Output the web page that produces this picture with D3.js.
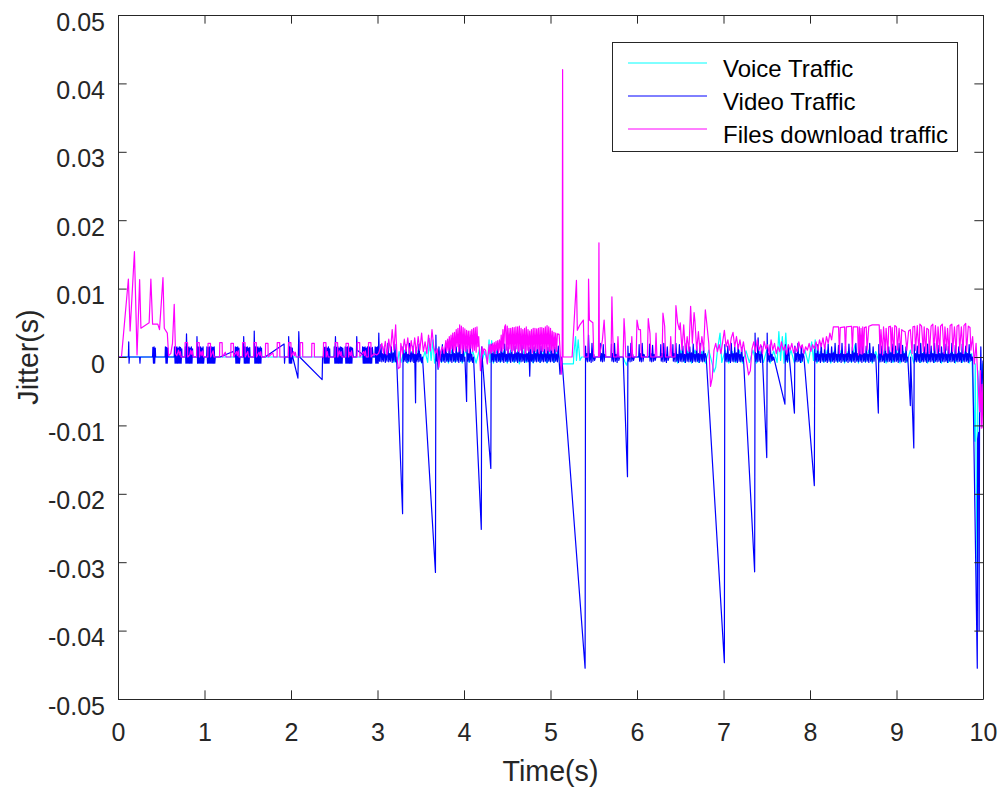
<!DOCTYPE html>
<html><head><meta charset="utf-8">
<script src="https://cdn.jsdelivr.net/npm/d3@7"></script>
<style>body{margin:0;background:#fff}svg{display:block}</style>
</head><body><svg id="c" width="1004" height="789"></svg>
<script>
// ---------- data (time in s, jitter in ms) ----------
const xTicks=[0,1,2,3,4,5,6,7,8,9,10];
const yTicks=[-0.05,-0.04,-0.03,-0.02,-0.01,0,0.01,0.02,0.03,0.04,0.05];
const yTickLabels=["-0.05","-0.04","-0.03","-0.02","-0.01","0","0.01","0.02","0.03","0.04","0.05"];
const seriesNames=["Voice Traffic","Video Traffic","Files download traffic"];
const seriesColors=["#00ffff","#0000ff","#ff00ff"];

const voiceJitterMs=[
[0,0],[3.17,0],[3.19,-0.8],[3.21,1.0],[3.23,-0.9],[3.25,0.8],[3.27,-0.8],[3.31,1.0],[3.35,-0.9],[3.39,0.8],[3.43,-0.8],[3.47,1.0],[3.51,-0.9],[3.55,0.8],[3.58,-0.8],[3.60,2.7],[3.62,-0.5],[3.64,2.5],[3.66,-0.9],[3.70,1.0],[3.74,-0.8],[3.78,0.9],[3.82,-0.9],[3.86,1.0],[3.90,-0.8],[3.94,0.8],[3.98,-0.9],
[4.02,1.0],[4.06,-0.8],[4.10,0.9],[4.14,-0.9],[4.18,1.2],[4.20,-1.0],[4.24,0.8],[4.27,-0.9],[4.29,2.5],[4.30,-0.8],[4.32,2.4],[4.34,-0.9],[4.38,1.0],[4.42,-0.8],[4.46,0.9],[4.50,-0.9],[4.54,1.0],[4.58,-0.8],[4.62,0.8],[4.64,-1.0],[4.68,1.0],[4.72,-0.8],[4.76,0.9],[4.80,-0.9],[4.84,1.0],[4.88,-0.8],[4.92,0.8],[4.96,-0.9],
[5.00,1.0],[5.04,-0.8],[5.08,0.9],[5.12,-0.9],[5.13,-1.0],[5.265,-1.0],[5.27,0.5],[5.29,3.0],[5.30,-0.5],[5.32,2.5],[5.34,-0.5],[5.36,0],[5.84,0],[5.86,-0.7],[5.88,-1.2],[5.90,0],[6.45,0],
[6.47,-0.9],[6.51,1.0],[6.55,-0.8],[6.59,0.9],[6.63,-0.9],[6.67,1.0],[6.71,-0.8],[6.75,0.8],[6.79,-0.9],[6.83,1.0],[6.87,-1.0],[6.89,-2.2],[6.91,-1.5],[6.93,1.0],[6.96,3.5],[6.98,-0.8],
[7.02,1.0],[7.06,-0.9],[7.10,0.8],[7.14,-0.8],[7.18,1.0],[7.22,-0.9],[7.26,0.9],[7.30,-0.8],[7.34,1.0],[7.38,-0.9],[7.42,0.8],[7.46,-0.8],[7.50,1.0],[7.54,-0.9],[7.58,0.9],[7.62,-0.8],[7.64,3.7],[7.66,-0.5],[7.68,3.0],[7.70,-0.9],[7.72,3.5],[7.74,-0.8],[7.78,1.0],[7.82,-0.9],[7.86,0.8],[7.90,-0.8],[7.94,1.0],[7.98,-0.9],
[8.02,2.2],[8.04,-0.5],[8.06,2.5],[8.08,-0.9],[8.12,0.8],[8.16,-0.8],[8.20,1.0],[8.24,-0.9],[8.28,0.9],[8.32,-0.8],[8.36,1.0],[8.40,-0.9],[8.44,0.8],[8.48,-0.8],[8.52,1.8],[8.56,-0.9],[8.60,1.8],[8.64,-0.8],[8.68,1.0],[8.72,-0.9],[8.76,0.8],[8.80,-0.8],[8.84,1.0],[8.88,-0.9],[8.92,0.9],[8.96,-0.8],
[9.00,1.0],[9.04,-0.9],[9.08,0.8],[9.12,-0.8],[9.16,1.0],[9.20,-0.9],[9.24,0.9],[9.28,-0.8],[9.32,1.0],[9.36,-0.9],[9.40,0.8],[9.44,-0.8],[9.48,1.0],[9.52,-0.9],[9.56,0.9],[9.60,-0.8],[9.64,1.0],[9.68,-0.9],[9.72,0.8],[9.76,-0.8],[9.80,1.0],[9.84,-0.9],[9.87,0.5],
[9.905,-12.3],[9.91,-1.0],[9.935,-36],[9.94,-2.0],[9.97,-8.0],[9.99,-1.0],[10.0,-2.0]
];

const videoJitterMs=[
[0,0],[0.12,0],[0.124,2.2],[0.128,-0.9],[0.132,0],[0.25,0],[0.254,-0.9],[0.258,0],
[0.40,0],[0.403,1.4],[0.41,-0.9],[0.417,1.5],[0.424,-0.9],[0.431,1.3],[0.435,0],
[0.545,0],[0.548,1.5],[0.555,-0.9],[0.562,1.4],[0.569,-0.9],[0.576,1.3],[0.58,0],
[0.65,0],[0.653,1.5],[0.66,-0.9],[0.667,1.4],[0.674,-0.9],[0.681,1.5],[0.688,-0.9],[0.695,1.3],[0.702,-0.9],[0.709,1.5],[0.716,-0.9],[0.723,1.4],[0.73,-0.9],[0.737,1.2],[0.74,0],
[0.775,0],[0.778,1.5],[0.785,-0.9],[0.792,3.4],[0.799,-0.9],[0.806,1.4],[0.813,-0.9],[0.82,1.5],[0.827,-0.9],[0.834,1.3],[0.841,-0.9],[0.848,1.5],[0.855,-0.9],[0.862,1.2],[0.865,0],
[0.91,0],[0.913,3.0],[0.92,-0.9],[0.927,1.5],[0.934,-0.9],[0.941,1.4],[0.948,-0.9],[0.955,1.5],[0.962,-0.9],[0.969,1.3],[0.976,-0.9],[0.983,1.5],[0.99,-0.9],[0.995,0],
[1.025,0],[1.028,1.5],[1.035,-0.9],[1.042,1.4],[1.049,-0.9],[1.056,1.5],[1.063,-0.9],[1.07,1.3],[1.077,-0.9],[1.084,1.5],[1.091,-0.9],[1.098,1.4],[1.105,-0.9],[1.112,1.5],[1.119,-0.9],[1.125,0],
[1.18,0],[1.33,0.8],[1.353,0],[1.356,1.5],[1.363,-0.9],[1.37,1.4],[1.377,-0.9],[1.384,1.5],[1.391,-0.9],[1.398,1.3],[1.405,-0.9],[1.41,0],
[1.45,0],[1.453,3.0],[1.46,-0.9],[1.467,1.5],[1.474,-0.9],[1.481,1.4],[1.488,-0.9],[1.495,1.5],[1.502,-0.9],[1.509,1.3],[1.516,-0.9],[1.523,1.4],[1.527,0],
[1.572,0],[1.575,3.8],[1.582,-0.9],[1.589,1.5],[1.596,-0.9],[1.603,1.4],[1.61,-0.9],[1.617,1.5],[1.624,-0.9],[1.631,1.3],[1.638,-0.9],[1.645,1.5],[1.652,-0.9],[1.659,1.3],[1.662,0],
[1.70,0],[1.92,1.9],[1.925,-0.9],[1.93,0],
[1.97,0],[1.973,3.0],[1.98,-0.9],[1.987,1.5],[1.994,-0.9],[2.001,1.4],[2.008,-0.9],[2.015,1.3],[2.02,0],
[2.08,-3.1],[2.09,3.7],[2.10,0],[2.36,-3.3],[2.365,0],
[2.374,0],[2.377,1.5],[2.384,-0.9],[2.391,1.4],[2.398,-0.9],[2.405,1.5],[2.412,-0.9],[2.419,1.3],[2.426,-0.9],[2.433,1.5],[2.44,-0.9],[2.447,1.2],[2.45,0],
[2.497,0],[2.50,1.5],[2.507,-0.9],[2.514,3.0],[2.521,-0.9],[2.528,1.4],[2.535,-0.9],[2.542,1.5],[2.549,-0.9],[2.556,1.3],[2.563,-0.9],[2.57,1.5],[2.577,-0.9],[2.584,1.4],[2.591,-0.9],[2.598,1.3],[2.605,0],
[2.624,0],[2.627,1.5],[2.634,-0.9],[2.641,1.4],[2.648,-0.9],[2.655,1.5],[2.662,-0.9],[2.669,1.3],[2.676,-0.9],[2.683,1.5],[2.69,-0.9],[2.697,1.4],[2.704,-0.9],[2.711,1.3],[2.72,0],
[2.755,0],[2.76,3.0],[2.765,1.0],[2.825,0.4],[2.828,1.5],[2.835,-0.9],[2.842,1.4],[2.849,-0.9],[2.856,1.5],[2.863,-0.9],[2.87,1.3],[2.877,-0.9],[2.884,1.5],[2.891,-0.9],[2.898,1.4],[2.905,-0.9],[2.912,1.5],[2.919,-0.9],[2.926,1.3],[2.933,-0.9],[2.94,1.4],[2.95,0],
[2.97,0],[2.973,1.5],[2.98,-0.9],[2.987,1.4],[2.994,-0.9],[3.001,1.5],[3.008,-0.9],[3.015,3.5],[3.022,-0.6],
[3.03,-0.6],[3.04,1.8],[3.05,-0.7],[3.06,0.5],[3.07,-0.6],[3.08,1.6],[3.09,-0.8],[3.10,0.4],[3.11,-0.6],[3.12,2.0],[3.13,-0.7],[3.14,0.5],[3.15,-0.6],[3.16,1.5],[3.17,-0.8],[3.18,0.6],[3.19,-0.6],[3.20,1.9],[3.21,-0.7],[3.22,0],
[3.29,-22.9],[3.295,1.5],[3.30,-0.7],[3.31,0.5],[3.32,-0.6],[3.33,1.8],[3.34,-0.8],[3.35,0.4],[3.36,-0.6],[3.37,2.0],[3.38,-0.7],[3.39,0.6],[3.40,-0.6],[3.41,1.6],[3.42,-0.8],[3.43,0.4],[3.44,-6.7],[3.445,1.4],[3.45,-0.6],[3.46,0.5],[3.47,-0.7],[3.48,1.9],[3.49,-0.6],[3.50,0.4],[3.51,-0.8],[3.52,0],
[3.67,-31.5],[3.675,3.2],[3.68,-0.6],[3.69,0.5],[3.70,-1.8],[3.71,1.5],[3.72,-0.6],[3.73,0.4],[3.74,-0.7],[3.75,1.8],[3.76,-0.6],[3.77,0.6],[3.78,-0.8],[3.79,2.0],[3.80,-0.6],[3.81,0.5],[3.82,-0.7],[3.83,1.6],[3.84,-0.6],[3.85,0.4],[3.86,-0.8],[3.87,2.1],[3.88,-0.6],[3.89,0.5],[3.90,-0.7],[3.91,1.5],[3.92,-0.6],[3.93,0.6],[3.94,-0.8],[3.95,1.9],[3.96,-0.6],[3.97,0.4],[3.98,-0.7],[3.99,1.7],[4.00,-0.6],[4.01,0],
[4.03,-6.5],[4.035,1.6],[4.04,-0.6],[4.05,0.5],[4.06,-0.7],[4.07,2.0],[4.08,-0.6],[4.09,0.4],[4.10,-0.8],[4.11,0],
[4.20,-25.2],[4.205,1.5],[4.21,0],
[4.31,-16.3],[4.315,1.8],[4.32,-0.6],[4.33,0.5],[4.34,-0.7],[4.35,1.6],[4.36,-0.6],[4.37,0.4],[4.38,-0.8],[4.39,2.0],[4.40,-0.6],[4.41,0.5],[4.42,-0.7],[4.43,1.7],[4.44,-0.6],[4.45,0.6],[4.46,-0.8],[4.47,1.9],[4.48,-0.6],[4.49,0.4],[4.50,-0.7],[4.51,1.5],[4.52,-0.6],[4.53,0.5],[4.54,-0.8],[4.55,1.8],[4.56,-0.6],[4.57,0.4],[4.58,-0.7],[4.59,1.6],[4.60,-0.6],[4.61,0.6],[4.62,-0.8],[4.63,2.0],[4.64,-0.6],[4.65,0.5],[4.66,-0.7],[4.67,1.7],[4.68,-0.6],[4.69,0.4],[4.70,-0.8],[4.71,1.8],[4.72,-0.6],[4.73,0.5],[4.74,-0.7],[4.75,1.4],[4.76,-2.8],[4.77,1.8],[4.78,-0.6],[4.79,0.4],[4.80,-0.8],[4.81,1.5],[4.82,-0.6],[4.83,0.5],[4.84,-0.7],[4.85,2.0],[4.86,-0.6],[4.87,0.6],[4.88,-0.8],[4.89,1.6],[4.90,-0.6],[4.91,0.4],[4.92,-0.7],[4.93,1.8],[4.94,-0.6],[4.95,0.5],[4.96,-0.8],[4.97,1.4],[4.98,-0.6],[4.99,0.4],
[5.00,-0.7],[5.01,1.9],[5.02,-0.6],[5.03,0.5],[5.04,-0.8],[5.05,1.5],[5.06,-0.6],[5.07,0.4],[5.08,-0.7],[5.09,1.6],[5.10,-0.6],[5.11,-2.5],[5.13,0],
[5.40,-45.5],[5.405,1.6],[5.41,-0.6],[5.42,0.5],[5.43,-0.7],[5.44,3.2],[5.45,-0.6],[5.46,0.5],[5.47,-0.8],[5.48,2.0],[5.49,-0.6],[5.50,0.4],[5.51,-0.5],[5.52,0],[5.57,0],[5.575,2.0],[5.58,-0.6],[5.59,0.5],[5.60,-0.7],[5.61,1.8],[5.62,-0.6],[5.63,0.4],[5.64,0],[5.70,0],[5.705,1.9],[5.71,-0.6],[5.72,0.5],[5.73,-0.7],[5.74,2.0],[5.75,-0.6],[5.76,0.4],[5.77,-0.8],[5.78,1.5],[5.79,-0.5],[5.80,0],[5.84,0],
[5.89,-17.5],[5.895,1.6],[5.90,-0.6],[5.91,0.5],[5.92,-0.7],[5.93,2.0],[5.94,-0.6],[5.95,0.4],[5.96,-0.5],[5.97,0],[6.02,0],[6.025,1.8],[6.03,-0.6],[6.04,0.5],[6.05,-0.7],[6.06,2.0],[6.07,-0.6],[6.08,0.4],[6.09,0],[6.14,0],[6.145,1.9],[6.15,-0.6],[6.16,0.5],[6.17,-0.7],[6.18,1.7],[6.19,-0.6],[6.20,0.4],[6.21,-0.5],[6.22,0],[6.27,0],[6.275,1.8],[6.28,-0.6],[6.29,0.5],[6.30,-0.7],[6.31,2.0],[6.32,-0.6],[6.33,0.4],[6.34,-0.8],[6.35,1.5],[6.36,-0.5],[6.37,0],[6.41,0],[6.415,1.8],
[6.42,-0.6],[6.43,0.5],[6.44,-0.7],[6.45,2.0],[6.46,-0.6],[6.47,0.4],[6.48,-0.8],[6.49,1.8],[6.50,-0.6],[6.51,0.5],[6.52,-0.7],[6.53,1.6],[6.54,-0.6],[6.55,0.4],[6.56,-0.8],[6.57,2.0],[6.58,-0.6],[6.59,0.5],[6.60,-0.7],[6.61,1.5],[6.62,-0.6],[6.63,0.6],[6.64,-0.8],[6.65,1.9],[6.66,-0.6],[6.67,0.4],[6.68,-0.7],[6.69,1.6],[6.70,-0.6],[6.71,0.5],[6.72,-0.8],[6.73,2.0],[6.74,-0.6],[6.75,0.4],[6.76,-0.7],[6.77,1.5],[6.78,-0.6],[6.79,0.5],[6.80,0],
[7.01,-44.7],[7.015,1.8],[7.02,-0.6],[7.03,0.5],[7.04,-0.7],[7.05,1.6],[7.06,-0.6],[7.07,0.4],[7.08,-0.8],[7.09,2.0],[7.10,-0.6],[7.11,0.5],[7.12,-0.7],[7.13,1.5],[7.14,-0.6],[7.15,0.6],[7.16,-0.8],[7.17,1.8],[7.18,-0.6],[7.19,0.4],[7.20,-0.7],[7.21,1.4],[7.22,-0.6],[7.23,0],
[7.36,-31.4],[7.365,3.5],[7.37,-0.6],[7.38,0.5],[7.39,-0.7],[7.40,2.8],[7.41,-0.6],[7.42,0.4],[7.43,-0.8],[7.44,1.6],[7.45,0],
[7.50,-14.7],[7.505,3.5],[7.51,-0.6],[7.52,0.5],[7.53,-0.7],[7.54,1.8],[7.55,-0.6],[7.56,0.4],[7.57,-0.5],[7.58,0],
[7.71,-6.9],[7.715,1.8],[7.72,-0.6],[7.73,0.5],[7.74,-0.7],[7.75,1.5],[7.76,0],
[7.82,-8.2],[7.825,1.6],[7.83,-0.6],[7.84,0.5],[7.85,-0.7],[7.86,2.0],[7.87,-0.6],[7.88,0.4],[7.89,-0.8],[7.90,1.6],[7.91,-0.6],[7.92,0.5],[7.93,0],
[8.05,-18.8],[8.055,1.5],[8.06,-0.6],[8.07,0.5],[8.08,-0.7],[8.09,1.8],[8.10,-0.6],[8.11,0.4],[8.12,-0.8],[8.13,2.0],[8.14,-0.6],[8.15,0.5],[8.16,-0.7],[8.17,1.6],[8.18,-0.6],[8.19,0.4],[8.20,-0.8],[8.21,1.9],[8.22,-0.6],[8.23,0.5],[8.24,-0.7],[8.25,1.5],[8.26,-0.6],[8.27,0.6],[8.28,-0.8],[8.29,2.0],[8.30,-0.6],[8.31,0.4],[8.32,-0.7],[8.33,1.7],[8.34,-0.6],[8.35,0.5],[8.36,-0.8],[8.37,2.0],[8.38,-0.6],[8.39,0.4],[8.40,-0.7],[8.41,1.6],[8.42,-0.6],[8.43,0.5],[8.44,-0.8],[8.45,1.9],[8.46,-0.6],[8.47,0.4],[8.48,-0.7],[8.49,1.5],[8.50,-0.6],[8.51,0.6],[8.52,-0.8],[8.53,2.0],[8.54,-0.6],[8.55,0.5],[8.56,-0.7],[8.57,1.7],[8.58,-0.6],[8.59,0.4],[8.60,-0.8],[8.61,1.8],[8.62,-0.6],[8.63,0.5],[8.64,-0.7],[8.65,1.6],[8.66,-0.6],[8.67,0.4],[8.68,-0.8],[8.69,2.0],[8.70,-0.6],[8.71,0.5],[8.72,-0.7],[8.73,1.5],[8.74,-0.6],[8.75,0.4],[8.76,0],
[8.79,-8.2],[8.795,1.8],[8.80,-0.6],[8.81,0.5],[8.82,-0.7],[8.83,1.6],[8.84,-0.6],[8.85,0.4],[8.86,-0.8],[8.87,2.0],[8.88,-0.6],[8.89,0.5],[8.90,-0.7],[8.91,1.5],[8.92,-0.6],[8.93,0.6],[8.94,-0.8],[8.95,1.9],[8.96,-0.6],[8.97,0.4],[8.98,-0.7],[8.99,1.6],[9.00,-0.6],[9.01,0.5],[9.02,-0.8],[9.03,2.0],[9.04,-0.6],[9.05,0.4],[9.06,-0.7],[9.07,1.7],[9.08,-0.6],[9.09,0.5],[9.10,-0.8],[9.11,1.5],[9.12,-0.6],[9.13,0],
[9.16,-7.1],[9.163,0],[9.20,-13.3],[9.205,1.8],[9.21,-0.6],[9.22,0.5],[9.23,-0.7],[9.24,1.6],[9.25,-0.6],[9.26,0.4],[9.27,-0.8],[9.28,2.0],[9.29,-0.6],[9.30,0.5],[9.31,-0.7],[9.32,1.5],[9.33,-0.6],[9.34,0.6],[9.35,-0.8],[9.36,1.9],[9.37,-0.6],[9.38,0.4],[9.39,-0.7],[9.40,1.6],[9.41,-0.6],[9.42,0.5],[9.43,-0.8],[9.44,2.0],[9.45,-0.6],[9.46,0.4],[9.47,-0.7],[9.48,1.7],[9.49,-0.6],[9.50,0.5],[9.51,-0.8],[9.52,1.5],[9.53,-0.6],[9.54,0.6],[9.55,-0.7],[9.56,1.9],[9.57,-0.6],[9.58,0.4],[9.59,-0.8],[9.60,1.6],[9.61,-0.6],[9.62,0.5],[9.63,-0.7],[9.64,2.0],[9.65,-0.6],[9.66,0.4],[9.67,-0.8],[9.68,1.7],[9.69,-0.6],[9.70,0.5],[9.71,-0.7],[9.72,1.5],[9.73,-0.6],[9.74,0.6],[9.75,-0.8],[9.76,1.9],[9.77,-0.6],[9.78,0.4],[9.79,-0.7],[9.80,1.6],[9.81,-0.6],[9.82,0.5],[9.83,-0.8],[9.84,1.8],[9.85,-0.6],[9.86,0.4],[9.87,-0.5],
[9.88,0],[9.934,-45.5],[9.938,-12],[9.95,-11],[9.955,-40],[9.96,-9],[9.975,1.5],[9.985,-6],[10.0,-0.5]
];

const filesJitterMs=[
[0,0],[0.04,0],[0.12,11.4],[0.14,3.8],[0.19,15.4],[0.22,0.3],[0.25,11.3],[0.265,4.2],[0.36,5.0],[0.38,11.4],[0.40,4.8],[0.46,4.8],[0.48,4.0],[0.52,11.6],[0.535,4.2],[0.57,3.5],[0.585,0.2],[0.61,0.5],[0.63,2.0],[0.65,7.7],[0.665,0.5],[0.68,0.2],[0.70,1.0],[0.71,0.3],[0.72,0.8],[0.73,0],
[0.774,0],[0.776,2.1],[0.804,2.1],[0.806,0],[0.83,0.3],[0.84,1.0],[0.85,0.4],[0.86,0.9],[0.87,0],
[0.909,0],[0.911,2.1],[0.939,2.1],[0.941,0],[0.96,0.8],[0.97,0.2],[0.98,0.9],[0.99,0],
[1.039,0],[1.041,2.0],[1.069,2.0],[1.071,0],[1.10,0.9],[1.11,0],
[1.174,0],[1.176,2.1],[1.204,2.1],[1.206,0],[1.24,0.7],[1.25,0],
[1.304,0],[1.306,2.0],[1.334,2.0],[1.336,0],[1.37,0.8],[1.38,0.2],[1.39,0.9],[1.40,0],
[1.439,0],[1.441,2.1],[1.469,2.1],[1.471,0],[1.50,0.8],[1.51,0],
[1.569,0],[1.571,2.1],[1.599,2.1],[1.601,0],[1.63,0.7],[1.64,0.2],[1.65,0.8],[1.66,0],
[1.704,0],[1.706,2.0],[1.734,2.0],[1.736,0],[1.79,0.6],[1.80,0],
[1.839,0],[1.841,2.1],[1.869,2.1],[1.871,0],
[1.969,0],[1.971,2.1],[1.999,2.1],[2.001,0],[2.03,0.8],[2.04,0.2],[2.05,0.7],[2.06,0],
[2.104,0],[2.106,2.1],[2.134,2.1],[2.136,0],
[2.239,0],[2.241,2.0],[2.269,2.0],[2.271,0],
[2.374,0],[2.376,2.1],[2.404,2.1],[2.406,0],[2.42,0.8],[2.43,0],
[2.509,0],[2.511,2.1],[2.539,2.1],[2.541,0],[2.56,0.9],[2.57,0.2],[2.58,0.8],[2.59,0],
[2.634,0],[2.636,2.0],[2.664,2.0],[2.666,0],[2.68,0.7],[2.69,0.2],[2.70,0.9],[2.71,0],
[2.764,0],[2.766,2.1],[2.794,2.1],[2.796,0],[2.84,0.8],[2.85,0.2],[2.86,0.9],[2.87,0],
[2.894,0],[2.896,2.1],[2.924,2.1],[2.926,0],[2.96,0.5],[2.99,0.3],
[3.01,0.5],[3.03,1.2],[3.05,2.0],[3.07,0.5],[3.09,2.3],[3.11,0.3],[3.13,2.6],[3.15,0.8],[3.17,4.0],[3.19,1.0],[3.21,4.7],[3.225,0],[3.24,-1.7],[3.26,-1.5],[3.27,2.0],[3.29,0.5],[3.31,2.6],[3.33,0.8],[3.35,2.8],[3.37,0.4],[3.39,2.4],[3.41,0.6],[3.43,2.8],[3.45,0.5],[3.47,3.0],[3.49,1.0],[3.51,3.5],[3.53,0.8],[3.55,2.2],[3.57,0.5],[3.59,3.2],[3.61,0.9],[3.63,4.0],[3.65,1.5],[3.67,0.5],[3.69,1.2],[3.71,-1.5],[3.73,0.8],[3.75,1.5],[3.77,0.5],[3.79,2.4],
[3.80,0.8],[3.81,2.6],[3.82,1.0],[3.83,3.0],[3.84,0.6],[3.85,3.2],[3.86,1.2],[3.87,3.5],[3.88,0.8],[3.89,3.6],[3.90,1.0],[3.91,4.0],[3.92,1.5],[3.93,4.2],[3.94,0.8],[3.95,4.7],[3.96,1.2],[3.97,4.5],[3.98,0.6],[3.99,4.3],
[4.00,1.0],[4.01,4.1],[4.02,0.8],[4.03,3.9],[4.04,1.2],[4.05,3.8],[4.06,0.6],[4.07,3.8],[4.08,1.3],[4.09,4.0],[4.10,0.8],[4.11,4.2],[4.12,1.0],[4.13,4.3],[4.14,0.7],[4.15,4.4],[4.16,1.5],[4.17,3.0],[4.19,-2.0],[4.21,1.5],[4.22,0.4],[4.23,1.2],[4.25,1.0],[4.27,-1.0],[4.29,1.8],[4.30,0.5],[4.31,1.9],[4.32,0.6],[4.33,2.0],[4.34,0.8],[4.35,2.1],[4.36,0.5],[4.37,2.3],[4.38,1.0],[4.39,2.4],[4.40,0.6],[4.41,2.5],[4.42,1.0],[4.43,3.2],[4.44,0.8],[4.45,4.0],[4.46,1.2],[4.47,4.4],[4.48,4.7],[4.49,1.0],[4.50,4.5],[4.51,0.6],[4.52,4.2],[4.53,1.2],[4.54,4.2],[4.55,0.8],[4.56,4.3],[4.57,1.0],[4.58,4.3],[4.59,0.6],[4.60,4.4],[4.61,1.2],[4.62,4.4],[4.63,0.8],[4.64,4.5],[4.65,1.0],[4.66,4.2],[4.67,0.6],[4.68,4.0],[4.69,1.2],[4.70,4.2],[4.71,0.5],[4.72,4.4],[4.73,1.0],[4.74,4.0],[4.75,0.8],[4.76,3.8],[4.77,1.2],[4.78,4.0],[4.79,0.6],[4.80,4.2],[4.81,1.0],[4.82,4.2],[4.83,0.8],[4.84,4.1],[4.85,1.2],[4.86,4.2],[4.87,0.5],[4.88,4.3],[4.89,1.0],[4.90,4.3],[4.91,0.8],[4.92,4.2],[4.93,1.2],[4.94,4.4],[4.95,0.6],[4.96,4.6],[4.97,1.0],[4.98,4.4],[4.99,0.8],
[5.00,4.2],[5.01,1.0],[5.02,3.8],[5.03,0.6],[5.04,3.6],[5.05,1.2],[5.06,3.5],[5.07,0.8],[5.08,3.4],[5.10,3.3],[5.115,0],[5.125,-2.5],[5.135,0],[5.14,42],[5.145,0],[5.25,0],[5.30,11.2],[5.31,3.9],[5.34,4.7],[5.38,5.4],[5.39,0],[5.435,0],[5.44,11.4],[5.45,5.4],[5.49,5.0],[5.50,0],[5.555,0],[5.56,16.7],[5.565,0],[5.60,2.5],[5.62,5.4],[5.63,3.0],[5.64,0],[5.70,0],[5.71,8.8],[5.72,3.0],[5.73,0],[5.77,0],[5.78,3.0],[5.79,0],[5.84,0],[5.85,5.6],[5.86,3.5],[5.87,0],[5.93,0],[5.94,3.0],[5.95,0],[5.99,0],
[6.00,5.4],[6.02,4.0],[6.04,4.0],[6.05,0],[6.12,0],[6.13,5.6],[6.15,3.5],[6.16,0],[6.21,0],[6.22,3.5],[6.23,0],[6.29,0],[6.30,6.4],[6.32,4.5],[6.33,0],[6.38,0],[6.39,3.0],[6.40,0],[6.44,0],[6.45,7.5],[6.47,5.0],[6.49,4.0],[6.50,5.0],[6.52,1.0],[6.54,4.7],[6.56,0.5],[6.58,3.0],[6.60,0.8],[6.62,7.4],[6.64,2.0],[6.66,6.5],[6.67,5.2],[6.69,1.0],[6.71,3.7],[6.73,0.5],[6.75,3.0],[6.77,1.0],[6.79,6.9],[6.81,4.5],[6.83,2.0],[6.85,-4.3],[6.87,-3.0],[6.89,1.0],[6.91,2.0],[6.93,0.8],[6.95,1.8],[6.97,0.5],[6.99,2.2],
[7.01,3.9],[7.03,1.5],[7.05,2.5],[7.07,1.0],[7.09,2.8],[7.11,3.6],[7.13,1.5],[7.15,3.0],[7.17,1.2],[7.19,2.5],[7.21,0.8],[7.23,2.2],[7.25,0.5],[7.27,-1.0],[7.29,-2.6],[7.31,-2.0],[7.33,1.2],[7.35,2.2],[7.37,0.8],[7.39,2.5],[7.41,1.0],[7.43,1.8],[7.45,0.5],[7.47,2.3],[7.49,1.2],[7.51,1.8],[7.53,0.3],[7.55,2.5],[7.57,1.0],[7.59,2.0],[7.61,0.5],[7.63,1.5],[7.65,0.8],[7.67,2.2],[7.69,1.0],[7.71,1.6],[7.73,0.4],[7.75,1.8],[7.77,1.0],[7.79,2.0],[7.81,0.6],[7.83,1.5],[7.85,0.8],[7.87,2.2],[7.89,1.2],[7.91,1.8],[7.93,0.5],[7.95,1.5],[7.97,1.0],[7.99,2.0],
[8.01,0.8],[8.03,1.8],[8.05,1.2],[8.07,2.2],[8.09,1.0],[8.11,2.5],[8.13,1.5],[8.15,2.8],[8.17,1.2],[8.19,3.0],[8.21,2.0],[8.23,3.5],[8.25,2.5],[8.27,4.4],[8.33,4.4],[8.34,0.5],[8.35,4.3],[8.40,4.4],[8.41,0.5],[8.42,4.4],[8.48,4.5],[8.49,1.0],[8.50,4.4],[8.55,4.4],[8.56,0.3],[8.57,4.4],[8.58,0.5],[8.59,4.2],[8.60,0.4],[8.61,4.4],[8.62,0.6],[8.63,4.3],[8.65,4.4],[8.66,1.0],[8.68,4.5],[8.72,4.7],[8.80,4.7],[8.81,0.5],[8.82,4.0],[8.84,0.3],[8.85,4.4],[8.87,1.0],[8.88,4.2],[8.90,0.5],[8.91,4.4],[8.93,4.5],[8.94,0.8],[8.95,4.3],[8.97,0.5],[8.98,4.6],
[9.00,4.4],[9.01,1.0],[9.03,4.2],[9.05,0.5],[9.06,4.0],[9.08,3.8],[9.10,3.7],[9.12,1.0],[9.14,3.8],[9.16,4.0],[9.18,0.5],[9.19,4.4],[9.21,4.5],[9.22,1.0],[9.24,4.6],[9.26,0.5],[9.27,4.8],[9.29,4.5],[9.31,0.8],[9.32,4.4],[9.34,0.5],[9.35,4.2],[9.37,4.0],[9.38,0.5],[9.40,4.5],[9.42,4.8],[9.43,1.0],[9.45,4.6],[9.47,0.5],[9.48,4.4],[9.50,0.8],[9.51,4.5],[9.53,4.8],[9.55,0.5],[9.56,4.4],[9.58,1.0],[9.59,4.2],[9.61,0.5],[9.62,4.6],[9.64,4.8],[9.65,0.8],[9.67,4.4],[9.69,0.5],[9.70,4.5],[9.72,4.7],[9.73,1.0],[9.75,4.4],[9.77,0.5],[9.78,4.6],[9.80,4.9],[9.81,0.8],[9.83,4.5],[9.85,4.3],[9.86,1.0],
[9.88,3.0],[9.90,-1.0],[9.92,2.0],[9.94,-3.0],[9.96,-8.0],[9.97,-2.0],[9.98,-10.4],[9.99,-4.0],[10.0,-10.4]
];

// ---------- chart ----------
const W=1004,H=789,L=118,R=983,T=15,B=699,TK=8.65;
const FONT='"Liberation Sans",Arial,Helvetica,sans-serif';
const INK="#262626";
const svg=d3.select("#c");
svg.append("rect").attr("width",W).attr("height",H).attr("fill","#fff");
const x=d3.scaleLinear().domain([0,10]).range([L,R]);
const y=d3.scaleLinear().domain([-0.05,0.05]).range([B,T]);

svg.append("defs").append("clipPath").attr("id","clip")
  .append("rect").attr("x",L).attr("y",T).attr("width",R-L).attr("height",B-T);

const line=d3.line().x(d=>x(d[0])).y(d=>y(d[1]/1000));
const plot=svg.append("g").attr("clip-path","url(#clip)");
[voiceJitterMs,videoJitterMs,filesJitterMs].forEach((data,i)=>{
  plot.append("path").datum(data).attr("d",line)
    .attr("fill","none").attr("stroke",seriesColors[i])
    .attr("stroke-width",1.2).attr("stroke-linejoin","round");
});

function styleAxis(g){
  g.attr("font-family",FONT).attr("font-size",25).attr("color",INK);
  g.selectAll("path,line").attr("stroke",INK);
}
svg.append("g").attr("transform",`translate(0,${B})`)
  .call(d3.axisBottom(x).tickValues(xTicks).tickSizeInner(-TK).tickSizeOuter(0).tickPadding(24).tickFormat(d3.format("d")))
  .call(styleAxis);
svg.append("g").attr("transform",`translate(0,${T})`)
  .call(d3.axisTop(x).tickValues(xTicks).tickSizeInner(-TK).tickSizeOuter(0).tickFormat(""))
  .call(styleAxis);
const gl=svg.append("g").attr("transform",`translate(${L},0)`)
  .call(d3.axisLeft(y).tickValues(yTicks).tickSizeInner(-TK).tickSizeOuter(0).tickPadding(13).tickFormat((d,i)=>yTickLabels[i]))
  .call(styleAxis);
gl.selectAll(".tick text").attr("dy","0.6em");
svg.append("g").attr("transform",`translate(${R},0)`)
  .call(d3.axisRight(y).tickValues(yTicks).tickSizeInner(-TK).tickSizeOuter(0).tickFormat(""))
  .call(styleAxis);

svg.append("text").attr("x",(L+R)/2).attr("y",781).attr("text-anchor","middle")
  .attr("font-family",FONT).attr("font-size",28.6).attr("fill",INK).text("Time(s)");
svg.append("text").attr("transform",`translate(38,${(T+B)/2}) rotate(-90)`).attr("text-anchor","middle")
  .attr("font-family",FONT).attr("font-size",28.6).attr("fill",INK).text("Jitter(s)");

// legend
const lg=svg.append("g");
lg.append("rect").attr("x",612.5).attr("y",42.5).attr("width",345).attr("height",109)
  .attr("fill","#fff").attr("stroke",INK).attr("stroke-width",1);
seriesNames.forEach((name,i)=>{
  const cy=63+i*33;
  lg.append("line").attr("x1",628).attr("x2",707).attr("y1",cy).attr("y2",cy)
    .attr("stroke",seriesColors[i]).attr("stroke-width",1);
  lg.append("text").attr("x",723).attr("y",cy+14).attr("font-family",FONT)
    .attr("font-size",24).attr("fill","#000").text(name);
});
</script></body></html>
